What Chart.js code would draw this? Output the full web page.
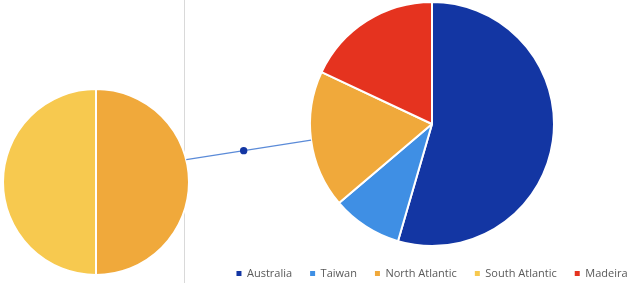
<!DOCTYPE html>
<html>
<head>
<meta charset="utf-8">
<script src="https://cdn.jsdelivr.net/npm/chart.js@4.4.1/dist/chart.umd.min.js"></script>
<style>
  html, body { margin: 0; padding: 0; width: 634px; height: 283px; overflow: hidden; background: #fff; }
  .box { position: absolute; }
  #frame { position: absolute; left: 184px; top: 0; width: 0; height: 283px; border-left: 1px solid #d9d9d9; }
  #overlay { position: absolute; left: 0; top: 0; pointer-events: none; }
</style>
</head>
<body>
<div id="frame"></div>
<div class="box" id="leftBox" style="left:0px; top:86px; width:192px; height:192px;"><canvas id="leftPie"></canvas></div>
<div class="box" id="rightBox" style="left:202px; top:-2px; width:460px; height:291px;"><canvas id="rightPie"></canvas></div>
<canvas id="overlay" width="634" height="283"></canvas>
<script>
// data
const categories = ["Australia", "Taiwan", "North Atlantic", "South Atlantic", "Madeira"];
const shares = [54.5, 9.3, 9.1, 9.1, 18.0];
const colors = ["#1336a3", "#3f8fe4", "#f0a93b", "#f7c94f", "#e5331f"];

// the two Atlantic points go to the small pie, the big pie gets their sum
const mainLabels = ["Australia", "Taiwan", "Atlantic", "Madeira"];
const mainValues = [shares[0], shares[1], shares[2] + shares[3], shares[4]];
const mainColors = [colors[0], colors[1], colors[2], colors[4]];
const subLabels = [categories[2], categories[3]];
const subValues = [shares[2], shares[3]];
const subColors = [colors[2], colors[3]];

// small pie
const leftPie = new Chart(document.getElementById("leftPie"), {
  type: "pie",
  data: {
    labels: subLabels,
    datasets: [{
      data: subValues,
      backgroundColor: subColors,
      borderColor: "#ffffff",
      borderWidth: 2,
    }],
  },
  options: {
    responsive: true,
    maintainAspectRatio: false,
    animation: false,
    radius: 93,
    layout: { padding: 0 },
    plugins: { legend: { display: false }, tooltip: { enabled: false } },
  },
});

// connector between the two pies
const connector = {
  id: "connector",
  afterDraw(chart) {
    const ov = document.getElementById("overlay").getContext("2d");
    ov.clearRect(0, 0, 634, 283);
    const lb = document.getElementById("leftBox");
    const rb = document.getElementById("rightBox");
    const la = leftPie.getDatasetMeta(0).data[0];
    const ra = chart.getDatasetMeta(0).data[2];
    const lcx = lb.offsetLeft + la.x, lcy = lb.offsetTop + la.y;
    const rcx = rb.offsetLeft + ra.x, rcy = rb.offsetTop + ra.y;
    const mid = (ra.startAngle + ra.endAngle) / 2;
    const ex = rcx + Math.cos(mid) * ra.outerRadius;
    const ey = rcy + Math.sin(mid) * ra.outerRadius;
    const ang = Math.atan2(ey - lcy, ex - lcx) - 0.05;
    const sx = lcx + Math.cos(ang) * la.outerRadius;
    const sy = lcy + Math.sin(ang) * la.outerRadius;
    ov.strokeStyle = "#5b8bd8";
    ov.lineWidth = 1.2;
    ov.beginPath();
    ov.moveTo(sx, sy);
    ov.lineTo(ex, ey);
    ov.stroke();
    const t = 0.46;
    ov.fillStyle = "#1336a3";
    ov.beginPath();
    ov.arc(sx + (ex - sx) * t, sy + (ey - sy) * t, 3.7, 0, Math.PI * 2);
    ov.fill();
  },
};

// big pie
new Chart(document.getElementById("rightPie"), {
  type: "pie",
  data: {
    labels: mainLabels,
    datasets: [{
      data: mainValues,
      backgroundColor: mainColors,
      borderColor: "#ffffff",
      borderWidth: 2,
    }],
  },
  options: {
    responsive: true,
    maintainAspectRatio: false,
    animation: false,
    radius: 122,
    layout: { padding: 0 },
    plugins: {
      tooltip: { enabled: false },
      legend: {
        position: "bottom",
        labels: {
          boxWidth: 5,
          boxHeight: 5,
          padding: 18,
          color: "#595959",
          font: { family: "'Open Sans'", size: 11 },
          generateLabels: () => categories.map((c, i) => ({
            text: c,
            fillStyle: colors[i],
            strokeStyle: colors[i],
            lineWidth: 0,
            fontColor: "#595959",
            index: i,
          })),
        },
      },
    },
  },
  plugins: [connector],
});
</script>
</body>
</html>
